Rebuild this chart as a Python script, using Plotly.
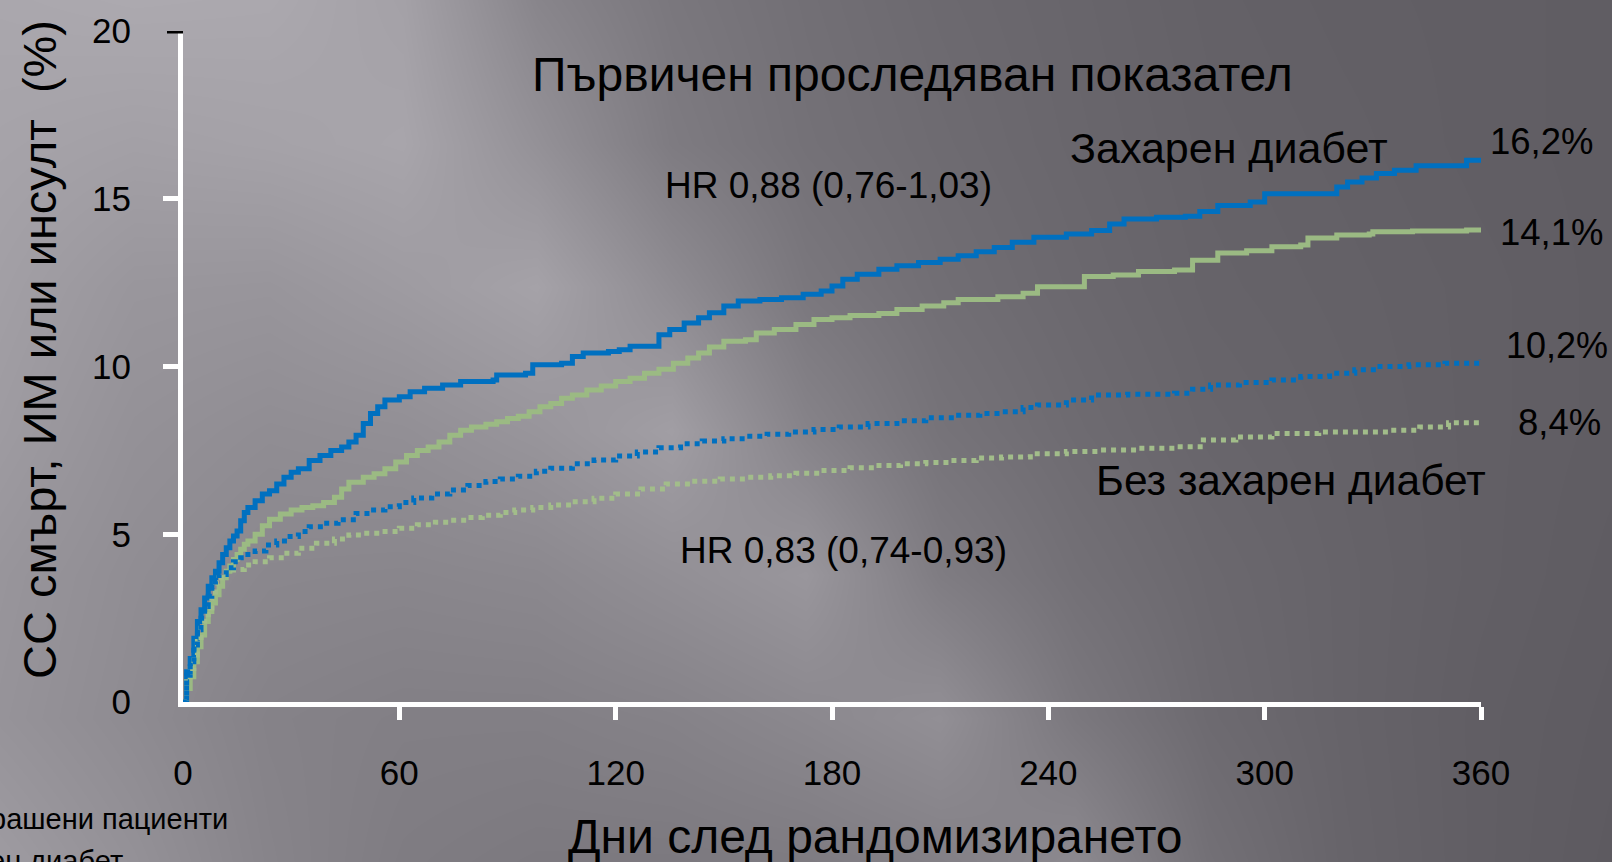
import plotly.graph_objects as go

W, H = 1612, 862
FONT = "Liberation Sans, Arial, Helvetica, sans-serif"

# ---- Kaplan-Meier style cumulative event curves (days, %) ----
diab_blue_days = [0, 1, 2, 3, 4, 5, 6, 7, 8, 9, 10, 11, 12, 13, 14, 15, 16, 17, 18, 20, 22, 24, 26, 28, 30,
                  32, 35, 38, 41, 44, 46, 48, 50, 52, 54, 56, 60, 63, 67, 72, 77, 86, 87, 95, 97, 105, 108,
                  111, 118, 121, 124, 130, 132, 135, 139, 143, 146, 150, 154, 160, 166, 172, 177, 180, 183,
                  187, 193, 198, 204, 210, 215, 220, 225, 230, 236, 245, 252, 257, 261, 270, 278, 282, 287,
                  296, 300, 316, 320, 323, 327, 331, 336, 342, 354, 356, 360]
diab_blue_pct = [0, 0.9, 1.3, 1.9, 2.4, 2.75, 3.1, 3.45, 3.7, 3.9, 4.15, 4.4, 4.6, 4.8, 4.95, 5.1, 5.4, 5.65,
                 5.8, 6.0, 6.2, 6.3, 6.5, 6.7, 6.85, 6.95, 7.2, 7.35, 7.5, 7.6, 7.75, 7.95, 8.3, 8.6, 8.8,
                 9.0, 9.1, 9.25, 9.35, 9.45, 9.55, 9.6, 9.75, 9.8, 10.05, 10.1, 10.3, 10.4, 10.45, 10.5,
                 10.6, 10.6, 10.95, 11.1, 11.3, 11.45, 11.6, 11.8, 11.95, 12.0, 12.05, 12.15, 12.25, 12.4,
                 12.6, 12.75, 12.9, 13.0, 13.1, 13.2, 13.3, 13.42, 13.55, 13.7, 13.85, 13.95, 14.05, 14.25,
                 14.4, 14.45, 14.48, 14.62, 14.8, 14.9, 15.15, 15.15, 15.35, 15.5, 15.62, 15.75, 15.85,
                 15.98, 15.98, 16.15, 16.2]

diab_green_days = [0, 1, 2, 3, 4, 5, 6, 7, 8, 9, 10, 11, 12, 13, 14, 15, 16, 17, 18, 20, 22, 24, 27, 30, 33,
                   36, 39, 42, 44, 46, 50, 53, 56, 59, 62, 65, 68, 71, 74, 77, 80, 84, 87, 90, 93, 96, 99,
                   102, 105, 108, 112, 116, 120, 124, 128, 132, 136, 140, 143, 146, 150, 156, 159, 164, 170,
                   175, 180, 185, 193, 198, 205, 211, 215, 226, 233, 237, 248, 250, 258, 265, 275, 280, 287,
                   295, 302, 310, 312, 320, 329, 330, 341, 356, 360]
diab_green_pct = [0, 0.4, 0.75, 1.2, 1.65, 2.0, 2.4, 2.7, 2.95, 3.2, 3.45, 3.7, 3.9, 4.05, 4.25, 4.4, 4.55,
                  4.7, 4.8, 5.0, 5.25, 5.45, 5.6, 5.72, 5.8, 5.85, 5.95, 6.1, 6.35, 6.55, 6.7, 6.8, 6.95,
                  7.15, 7.35, 7.5, 7.6, 7.75, 7.95, 8.1, 8.2, 8.28, 8.35, 8.45, 8.52, 8.65, 8.8, 8.9, 9.05,
                  9.15, 9.3, 9.42, 9.55, 9.65, 9.8, 9.92, 10.1, 10.25, 10.4, 10.58, 10.75, 10.8, 11.0, 11.1,
                  11.25, 11.4, 11.45, 11.52, 11.58, 11.7, 11.8, 11.9, 12.0, 12.08, 12.18, 12.38, 12.38,
                  12.68, 12.73, 12.83, 12.88, 13.17, 13.38, 13.45, 13.57, 13.62, 13.83, 13.92, 13.95, 14.02,
                  14.04, 14.07, 14.1]

nodiab_blue_days = [0, 1, 2, 3, 4, 5, 6, 7, 8, 9, 10, 12, 14, 16, 18, 20, 23, 26, 29, 32, 35, 39, 43, 48, 52,
                    56, 60, 64, 69, 74, 79, 84, 88, 93, 98, 102, 108, 114, 120, 126, 132, 138, 144, 150, 156,
                    162, 168, 175, 182, 190, 198, 206, 214, 221, 227, 233, 237, 245, 252, 262, 275, 280, 285,
                    293, 302, 310, 318, 325, 331, 340, 350, 360]
nodiab_blue_pct = [0, 0.8, 1.2, 1.7, 2.15, 2.5, 2.85, 3.15, 3.4, 3.6, 3.8, 4.0, 4.18, 4.3, 4.4, 4.5, 4.68, 4.8,
                   4.93, 5.08, 5.22, 5.33, 5.43, 5.62, 5.72, 5.82, 5.95, 6.08, 6.2, 6.32, 6.45, 6.57, 6.65,
                   6.73, 6.88, 6.97, 7.1, 7.21, 7.33, 7.45, 7.58, 7.7, 7.78, 7.85, 7.92, 7.98, 8.05, 8.12,
                   8.2, 8.3, 8.38, 8.47, 8.55, 8.6, 8.65, 8.78, 8.85, 9.0, 9.15, 9.17, 9.2, 9.32, 9.45, 9.52,
                   9.6, 9.7, 9.8, 9.9, 10.0, 10.05, 10.1, 10.2]

nodiab_green_days = [0, 1, 2, 3, 4, 5, 6, 7, 8, 9, 10, 12, 14, 17, 20, 24, 28, 32, 37, 42, 46, 50, 55, 60, 65,
                     70, 74, 79, 83, 88, 92, 97, 102, 108, 114, 120, 127, 134, 141, 149, 156, 163, 170, 177,
                     185, 192, 199, 206, 213, 220, 227, 235, 245, 254, 265, 275, 283, 292, 302, 315, 335, 343,
                     351, 360]
nodiab_green_pct = [0, 0.6, 1.0, 1.4, 1.8, 2.2, 2.5, 2.8, 3.2, 3.55, 3.7, 3.85, 3.95, 4.08, 4.18, 4.3, 4.43,
                    4.58, 4.73, 4.86, 4.98, 5.03, 5.08, 5.18, 5.28, 5.36, 5.42, 5.5, 5.57, 5.65, 5.72, 5.8,
                    5.87, 5.97, 6.07, 6.2, 6.35, 6.5, 6.58, 6.65, 6.7, 6.74, 6.82, 6.9, 6.98, 7.05, 7.1, 7.14,
                    7.2, 7.27, 7.3, 7.4, 7.47, 7.51, 7.56, 7.61, 7.81, 7.9, 8.0, 8.05, 8.1, 8.2, 8.32, 8.4]

x_tick_vals = [0, 60, 120, 180, 240, 300, 360]
y_tick_vals = [0, 5, 10, 15, 20]

BLUE = "#0070c0"
GREEN = "#9bba83"
GREEN_DOT = "#a2bd8a"

# ---- backdrop shading: gray levels on a coarse grid (pixel positions) ----
bg_cols = [0, 134, 269, 403, 537, 672, 806, 940, 1075, 1209, 1343, 1478, 1612]
bg_rows = [0, 144, 287, 431, 575, 718, 862]
bg_levels = [
    [170, 172, 171, 164, 136, 122, 114, 108, 104, 100, 98, 97, 96],
    [166, 163, 165, 168, 148, 126, 116, 110, 105, 101, 99, 97, 96],
    [162, 153, 152, 158, 165, 143, 122, 113, 107, 102, 100, 98, 96],
    [158, 148, 144, 146, 152, 161, 134, 118, 110, 104, 101, 98, 96],
    [152, 144, 138, 137, 139, 146, 153, 127, 115, 107, 102, 98, 95],
    [150, 142, 133, 130, 130, 133, 139, 146, 123, 109, 102, 97, 94],
    [158, 148, 135, 127, 124, 124, 126, 131, 140, 115, 103, 97, 93],
]


def px(x):
    return x / W


def py(y):
    return 1 - y / H


fig = go.Figure()

fig.add_trace(go.Heatmap(
    x=bg_cols, y=bg_rows, z=bg_levels, zsmooth="best", zmin=90, zmax=176,
    colorscale=[[0, "rgb(90,87,93)"], [1, "rgb(176,173,179)"]],
    showscale=False, hoverinfo="skip", xaxis="x", yaxis="y",
))

curves = [
    (diab_green_days, diab_green_pct, GREEN, None, 5, "Захарен диабет (зелена)"),
    (diab_blue_days, diab_blue_pct, BLUE, None, 5, "Захарен диабет (синя)"),
    (nodiab_green_days, nodiab_green_pct, GREEN_DOT, "5px,5px", 5, "Без захарен диабет (зелена)"),
    (nodiab_blue_days, nodiab_blue_pct, BLUE, "5px,5px", 5, "Без захарен диабет (синя)"),
]
for days, pct, color, dash, width, name in curves:
    line = dict(color=color, width=width, shape="hv")
    if dash:
        line["dash"] = dash
    fig.add_trace(go.Scatter(x=days, y=pct, mode="lines", line=line, name=name,
                             xaxis="x2", yaxis="y2", hoverinfo="skip"))

x_dom = [px(183), px(1481)]
y_dom = [py(702), py(31)]

tick_font = dict(family=FONT, size=35, color="black")

fig.update_layout(
    width=W, height=H, autosize=False,
    margin=dict(l=0, r=0, t=0, b=0, pad=0, autoexpand=False),
    paper_bgcolor="#7d7a80", plot_bgcolor="rgba(0,0,0,0)",
    showlegend=False,
    xaxis=dict(domain=[0, 1], range=[0, W], visible=False, fixedrange=True),
    yaxis=dict(domain=[0, 1], range=[H, 0], visible=False, fixedrange=True),
    xaxis2=dict(domain=x_dom, anchor="y2", range=[0, 360], showgrid=False, zeroline=False,
                showline=True, linecolor="white", linewidth=5, automargin=False,
                tickvals=x_tick_vals, ticktext=[str(v) for v in x_tick_vals], ticks="",
                tickfont=tick_font, ticklabelstandoff=36,
                minor=dict(tickvals=x_tick_vals[1:], ticks="outside", ticklen=13, tickwidth=5,
                           tickcolor="white", showgrid=False),
                fixedrange=True),
    yaxis2=dict(domain=y_dom, anchor="x2", range=[0, 20], showgrid=False, zeroline=False,
                showline=True, linecolor="white", linewidth=5, automargin=False,
                tickvals=y_tick_vals, ticktext=[str(v) for v in y_tick_vals], ticks="",
                tickfont=tick_font, ticklabelstandoff=40,
                minor=dict(tickvals=y_tick_vals[1:4], ticks="outside", ticklen=15, tickwidth=5,
                           tickcolor="white", showgrid=False),
                fixedrange=True),
)

# black top tick at 20
fig.add_shape(type="line", xref="paper", yref="y2", x0=px(167), x1=px(183), y0=20, y1=20,
              line=dict(color="black", width=5))


def label(text, x, y, size, xanchor="left", angle=0):
    fig.add_annotation(text=text, xref="paper", yref="paper", x=px(x), y=py(y),
                       xanchor=xanchor, yanchor="middle", showarrow=False, textangle=angle,
                       font=dict(family=FONT, size=size, color="black"))


label("Първичен проследяван показател", 912, 75, 48, xanchor="center")
label("Захарен диабет", 1068, 148, 43)
label("Без захарен диабет", 1094, 480, 42.5)
label("HR 0,88 (0,76-1,03)", 663, 185, 37)
label("HR 0,83 (0,74-0,93)", 678, 550, 37)
label("16,2%", 1488, 141, 36.5)
label("14,1%", 1498, 232, 36.5)
label("10,2%", 1504, 345, 36)
label("8,4%", 1516, 423, 36.5)
label("Дни след рандомизирането", 875, 836, 48, xanchor="center")
label("СС смърт, ИМ или инсулт  (%)", 39, 350, 47, xanchor="center", angle=-90)
label("рашени пациенти", 230, 819, 29, xanchor="right")
label("ен диабет", 125, 861, 29, xanchor="right")

fig.write_html("out.html")
